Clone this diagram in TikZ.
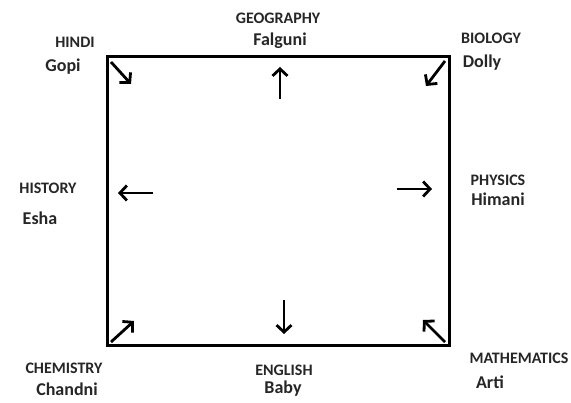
\documentclass[tikz,border=0pt]{standalone}
\usepackage{fontspec}
\setmainfont{Carlito}
\usetikzlibrary{arrows.meta}
\begin{document}
\begin{tikzpicture}[x=1pt,y=-1pt,
  subj/.style={font=\bfseries\fontsize{16}{18}\selectfont, text=black!85, inner sep=0pt},
  pname/.style={font=\bfseries\fontsize{18}{20}\selectfont, text=black!85, inner sep=0pt},
  dirarrow/.style={line width=2.8pt, -{Straight Barb[length=7pt,width=15pt]}}]
\useasboundingbox (0,0) rectangle (571,403);
\fill[white] (0,0) rectangle (571,403);
% box
\coordinate (tl) at (107,57);
\coordinate (br) at (449,346);
\draw[line width=3pt] (tl) rectangle (br);
% arrows
\coordinate (a1s) at (111,62); \coordinate (a1e) at (131,84);
\draw[dirarrow] (a1s) -- (a1e);
\coordinate (a2s) at (280,99); \coordinate (a2e) at (280,67);
\draw[dirarrow] (a2s) -- (a2e);
\coordinate (a3s) at (445,61); \coordinate (a3e) at (426,86);
\draw[dirarrow] (a3s) -- (a3e);
\coordinate (a4s) at (153,193); \coordinate (a4e) at (118,193);
\draw[dirarrow] (a4s) -- (a4e);
\coordinate (a5s) at (397,189); \coordinate (a5e) at (432,189);
\draw[dirarrow] (a5s) -- (a5e);
\coordinate (a6s) at (111,342); \coordinate (a6e) at (134,321);
\draw[dirarrow] (a6s) -- (a6e);
\coordinate (a7s) at (284,300); \coordinate (a7e) at (284,334);
\draw[dirarrow] (a7s) -- (a7e);
\coordinate (a8s) at (445,342); \coordinate (a8e) at (423,320);
\draw[dirarrow] (a8s) -- (a8e);
% labels
\node[subj] (hindi) at (75,42) {HINDI};
\node[pname] (gopi) at (63,67) {Gopi};
\node[subj] (geo) at (278,18) {GEOGRAPHY};
\node[pname] (falguni) at (280,41) {Falguni};
\node[subj] (bio) at (491,38) {BIOLOGY};
\node[pname] (dolly) at (482,63) {Dolly};
\node[subj] (hist) at (48,188) {HISTORY};
\node[pname] (esha) at (40,218) {Esha};
\node[subj] (phys) at (498,180) {PHYSICS};
\node[pname] (himani) at (498,199) {Himani};
\node[subj] (chem) at (64,368) {CHEMISTRY};
\node[pname] (chandni) at (67,389) {Chandni};
\node[subj] (eng) at (284,370) {ENGLISH};
\node[pname] (baby) at (283,389) {Baby};
\node[subj] (math) at (519,358) {MATHEMATICS};
\node[pname] (arti) at (490,382) {Arti};
\end{tikzpicture}
\end{document}
